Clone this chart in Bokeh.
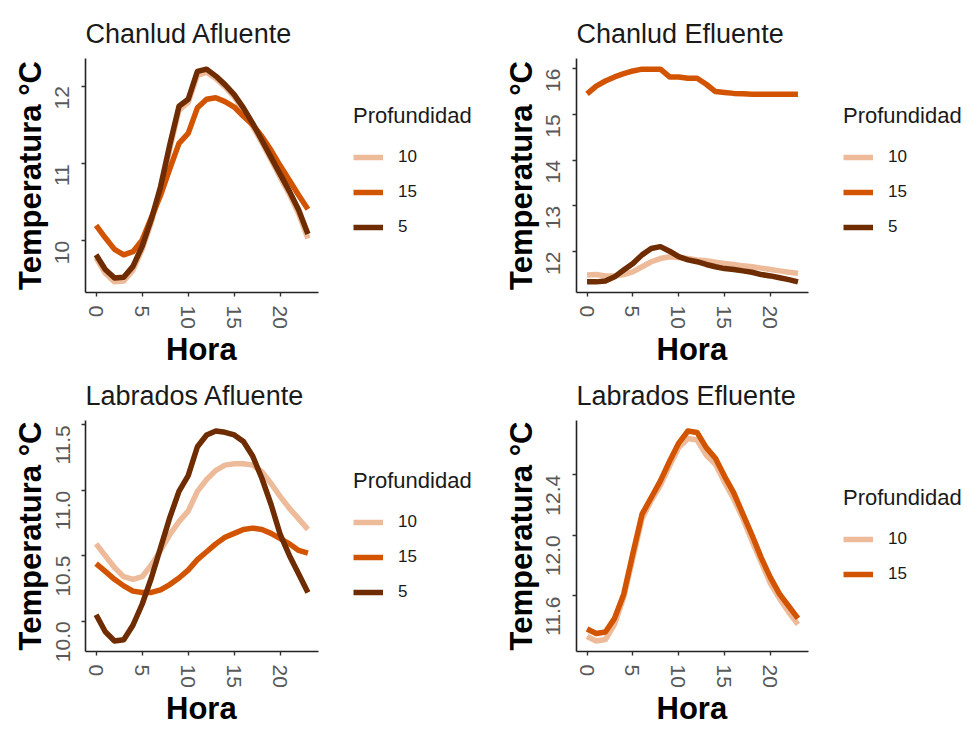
from bokeh.plotting import figure
from bokeh.layouts import row, column
from bokeh.models import Range1d, FixedTicker, Legend, LegendItem, Title
from bokeh.embed import file_html
from bokeh.resources import INLINE

# ---------------- data ----------------
HOURS = list(range(24))
X_TICKS = [0, 5, 10, 15, 20]
DEPTH_LABELS = ["10", "15", "5"]
DEPTH_COLORS = ["#EDBB99", "#D35400", "#6E2C00"]

TITLES = ["Chanlud Afluente", "Chanlud Efluente", "Labrados Afluente", "Labrados Efluente"]

chanlud_afluente_10 = [9.78, 9.58, 9.47, 9.48, 9.62, 9.89, 10.24, 10.66, 11.19, 11.69, 11.79, 12.14,
                       12.18, 12.10, 11.99, 11.86, 11.69, 11.48, 11.27, 11.05, 10.82, 10.60, 10.35, 10.03]
chanlud_afluente_15 = [10.20, 10.04, 9.89, 9.82, 9.86, 10.01, 10.30, 10.59, 10.93, 11.26, 11.39, 11.72,
                       11.83, 11.85, 11.80, 11.73, 11.61, 11.50, 11.35, 11.17, 10.97, 10.78, 10.59, 10.41]
chanlud_afluente_5 = [9.82, 9.63, 9.52, 9.53, 9.67, 9.93, 10.28, 10.70, 11.24, 11.74, 11.83, 12.19,
                      12.22, 12.13, 12.02, 11.89, 11.72, 11.52, 11.30, 11.08, 10.86, 10.64, 10.40, 10.09]

chanlud_efluente_10 = [11.49, 11.50, 11.47, 11.47, 11.50, 11.56, 11.67, 11.78, 11.85, 11.89, 11.87, 11.85,
                       11.82, 11.80, 11.77, 11.74, 11.72, 11.69, 11.67, 11.64, 11.61, 11.58, 11.55, 11.53]
chanlud_efluente_15 = [15.45, 15.62, 15.73, 15.82, 15.89, 15.95, 15.99, 15.99, 15.99, 15.82, 15.82, 15.79,
                       15.79, 15.66, 15.50, 15.48, 15.46, 15.45, 15.44, 15.44, 15.44, 15.44, 15.44, 15.44]
chanlud_efluente_5 = [11.34, 11.34, 11.36, 11.45, 11.60, 11.74, 11.93, 12.07, 12.11, 12.01, 11.89, 11.82,
                      11.78, 11.72, 11.67, 11.63, 11.61, 11.58, 11.55, 11.50, 11.47, 11.43, 11.39, 11.34]

labrados_afluente_10 = [10.59, 10.50, 10.41, 10.34, 10.32, 10.34, 10.43, 10.54, 10.66, 10.76, 10.84, 10.99,
                        11.08, 11.15, 11.19, 11.20, 11.20, 11.19, 11.14, 11.05, 10.95, 10.86, 10.78, 10.70]
labrados_afluente_15 = [10.44, 10.38, 10.32, 10.27, 10.23, 10.22, 10.22, 10.24, 10.28, 10.33, 10.39, 10.47,
                        10.53, 10.59, 10.64, 10.67, 10.70, 10.71, 10.70, 10.67, 10.63, 10.59, 10.54, 10.52]
labrados_afluente_5 = [10.05, 9.92, 9.85, 9.86, 9.97, 10.13, 10.33, 10.56, 10.79, 10.99, 11.11, 11.33,
                       11.42, 11.45, 11.44, 11.42, 11.37, 11.26, 11.09, 10.89, 10.66, 10.50, 10.36, 10.22]

labrados_efluente_10 = [11.33, 11.30, 11.31, 11.41, 11.59, 11.85, 12.11, 12.23, 12.33, 12.46, 12.58, 12.64,
                        12.63, 12.53, 12.47, 12.35, 12.24, 12.11, 11.96, 11.82, 11.68, 11.58, 11.49, 11.41]
labrados_efluente_15 = [11.38, 11.35, 11.36, 11.45, 11.61, 11.88, 12.14, 12.25, 12.36, 12.49, 12.61, 12.69,
                        12.68, 12.58, 12.51, 12.39, 12.28, 12.14, 12.00, 11.85, 11.72, 11.61, 11.53, 11.45]

Y_TICKS_CA = [10, 11, 12]
Y_TICKS_CE = [12, 13, 14, 15, 16]
Y_TICKS_LA = [10.0, 10.5, 11.0, 11.5]
Y_TICKS_LE = [11.6, 12.0, 12.4]

# ---------------- style ----------------
FONT = "Liberation Sans"
FIG_SP = "\u2007"    # figure space (digit width)
PUNCT_SP = "\u2008"  # punctuation space (width of '.')


def end_aligned(text):
    """Pad a label so that, once rotated, its text ends at the tick (like ggplot's hjust = 1)."""
    return text + "".join(PUNCT_SP if ch == "." else FIG_SP for ch in text)


def centred_x(text):
    """Pad single-digit labels so they centre with the two-digit ones."""
    return text + PUNCT_SP * (2 - len(text)) if len(text) < 2 else text


def make_panel(title, series, yticks, yfmt, data_w, full_w, frame_h, b_left, b_top, b_right, b_bottom,
               legend_vy):
    allv = [v for s in series for v in s]
    lo, hi = min(allv), max(allv)
    pad = 0.05 * (hi - lo)
    x0 = HOURS[0] - 0.05 * (HOURS[-1] - HOURS[0])
    x1 = HOURS[-1] + 0.05 * (HOURS[-1] - HOURS[0])
    # the frame is wider than the data panel so that the legend can sit to its right
    x_end = x0 + (x1 - x0) * full_w / data_w
    p = figure(frame_width=full_w, frame_height=frame_h, output_backend="svg", toolbar_location=None,
               x_range=Range1d(x0, x_end), y_range=Range1d(lo - pad, hi + pad),
               min_border_left=b_left, min_border_top=b_top, min_border_right=b_right,
               min_border_bottom=b_bottom, background_fill_color="white",
               border_fill_color="white", outline_line_color=None)
    p.grid.visible = False
    p.title.text = title
    p.title.text_font = FONT
    p.title.text_font_size = "27px"
    p.title.text_font_style = "normal"
    p.title.text_color = "#1a1a1a"
    p.title.align = "left"
    p.title.standoff = 20

    items = []
    for lab, col, vals in zip(DEPTH_LABELS, DEPTH_COLORS, series):
        r = p.line(HOURS, vals, line_color=col, line_width=5.5, line_join="round")
        items.append(LegendItem(label=lab, renderers=[r]))

    for ax in (p.xaxis[0], p.yaxis[0]):
        ax.axis_line_color = "#222222"
        ax.axis_line_width = 1.6
        ax.major_tick_line_color = "#333333"
        ax.major_tick_line_width = 1.4
        ax.major_tick_out = 4
        ax.major_tick_in = 0
        ax.minor_tick_line_color = None
        ax.major_label_text_font = FONT
        ax.major_label_text_font_size = "21px"
        ax.major_label_text_color = "#595959"
        ax.major_label_orientation = "vertical"
        ax.axis_label_text_font = FONT
        ax.axis_label_text_font_size = "31px"
        ax.axis_label_text_font_style = "bold"
        ax.axis_label_text_color = "#000000"
    p.xaxis.bounds = (x0, x1)
    p.xaxis.major_label_standoff = 9
    p.yaxis.major_label_standoff = 8
    p.yaxis.axis_label_standoff = 0
    p.xaxis.ticker = FixedTicker(ticks=X_TICKS)
    p.yaxis.ticker = FixedTicker(ticks=yticks)
    p.xaxis.major_label_overrides = {t: centred_x(str(t)) for t in X_TICKS}
    p.yaxis.major_label_overrides = {t: end_aligned(yfmt % t) for t in yticks}
    p.yaxis.axis_label = "Temperatura °C"

    xlabel = Title(text="Hora", align="left", offset=data_w / 2 - 36, standoff=-4,
                   text_font=FONT, text_font_size="31px", text_font_style="bold", text_color="#000000")
    p.add_layout(xlabel, "below")

    legend = Legend(items=items, location=(data_w + 35, legend_vy), title="Profundidad",
                    title_text_font=FONT, title_text_font_size="22px", title_text_font_style="normal",
                    title_text_color="#1a1a1a", title_standoff=18,
                    label_text_font=FONT, label_text_font_size="17px", label_text_color="#1a1a1a",
                    glyph_width=30, glyph_height=20, label_height=20, label_standoff=15,
                    spacing=15, padding=10, margin=0, border_line_color=None,
                    background_fill_alpha=0)
    p.add_layout(legend)
    return p


p1 = make_panel(TITLES[0], [chanlud_afluente_10, chanlud_afluente_15, chanlud_afluente_5],
                Y_TICKS_CA, "%d", 233, 400, 234, 85, 58, 14, 76, 55)
p2 = make_panel(TITLES[1], [chanlud_efluente_10, chanlud_efluente_15, chanlud_efluente_5],
                Y_TICKS_CE, "%d", 232, 390, 234, 77, 58, 0, 76, 55)
p3 = make_panel(TITLES[2], [labrados_afluente_10, labrados_afluente_15, labrados_afluente_5],
                Y_TICKS_LA, "%.1f", 233, 400, 231, 85, 47, 14, 76, 49)
p4 = make_panel(TITLES[3], [labrados_efluente_10, labrados_efluente_15],
                Y_TICKS_LE, "%.1f", 232, 390, 231, 77, 47, 0, 76, 67)

layout = column(row(p1, p2), row(p3, p4))
open("out.html", "w").write(file_html(layout, INLINE))
